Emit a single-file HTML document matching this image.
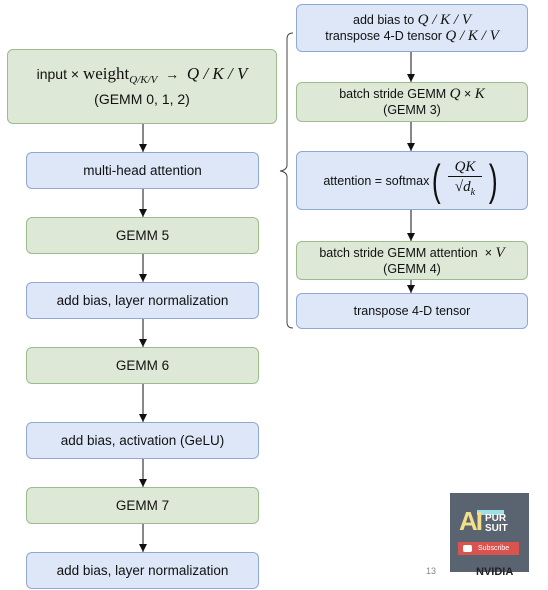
<!DOCTYPE html>
<html><head><meta charset="utf-8"><style>
body{margin:0;width:548px;height:590px;background:#fff;position:relative;overflow:hidden;font-family:"Liberation Sans",sans-serif;color:#111;}
.b{position:absolute;box-sizing:border-box;border-radius:6px;display:flex;flex-direction:column;align-items:center;justify-content:center;text-align:center;font-size:13.5px;line-height:17px;}
.g{background:#dde8d6;border:1px solid #9dbb8c;}
.u{background:#dde7f7;border:1px solid #8fa8d4;}
.m{font-family:"Liberation Serif",serif;font-style:italic;font-size:17px;}
.r{font-size:12.5px;line-height:16px;}
svg{z-index:5;}
</style></head><body>
<svg width="548" height="590" style="position:absolute;left:0;top:0">
<defs><marker id="a" markerWidth="8" markerHeight="8" refX="8" refY="4" orient="auto" markerUnits="userSpaceOnUse"><path d="M0,0 L8,4 L0,8z" fill="#111"/></marker></defs>
<g stroke="#111" stroke-width="1" fill="none">
<line x1="143" y1="124" x2="143" y2="152" marker-end="url(#a)"/>
<line x1="143" y1="189" x2="143" y2="217" marker-end="url(#a)"/>
<line x1="143" y1="254" x2="143" y2="282" marker-end="url(#a)"/>
<line x1="143" y1="319" x2="143" y2="347" marker-end="url(#a)"/>
<line x1="143" y1="384" x2="143" y2="422" marker-end="url(#a)"/>
<line x1="143" y1="459" x2="143" y2="487" marker-end="url(#a)"/>
<line x1="143" y1="524" x2="143" y2="552" marker-end="url(#a)"/>
<line x1="411" y1="52" x2="411" y2="82" marker-end="url(#a)"/>
<line x1="411" y1="122" x2="411" y2="151" marker-end="url(#a)"/>
<line x1="411" y1="210" x2="411" y2="241" marker-end="url(#a)"/>
<line x1="411" y1="280" x2="411" y2="293" marker-end="url(#a)"/>
<path d="M293,33 Q287,33 287,39 L287,165 Q287,170 280,171 Q287,172 287,177 L287,322 Q287,328 293,328" stroke="#444"/>
</g></svg>
<div class="b g" style="left:7px;top:49px;width:270px;height:75px;font-size:14px;line-height:20px"><div>input × <span style="font-family:'Liberation Serif',serif;font-size:17px">weight</span><sub class="m" style="font-size:11px">Q/K/V</sub> &nbsp;→ &nbsp;<span class="m">Q</span><span class="m"> / K / V</span></div><div>(GEMM 0, 1, 2)</div></div>
<div class="b u" style="left:26px;top:152px;width:233px;height:37px">multi-head attention</div>
<div class="b g" style="left:26px;top:217px;width:233px;height:37px">GEMM 5</div>
<div class="b u" style="left:26px;top:282px;width:233px;height:37px">add bias, layer normalization</div>
<div class="b g" style="left:26px;top:347px;width:233px;height:37px">GEMM 6</div>
<div class="b u" style="left:26px;top:422px;width:233px;height:37px">add bias, activation (GeLU)</div>
<div class="b g" style="left:26px;top:487px;width:233px;height:37px">GEMM 7</div>
<div class="b u" style="left:26px;top:552px;width:233px;height:37px">add bias, layer normalization</div>

<div class="b u r" style="left:296px;top:4px;width:232px;height:48px"><div>add bias to <span class="m" style="font-size:15px">Q / K / V</span></div><div>transpose 4-D tensor <span class="m" style="font-size:15px">Q / K / V</span></div></div>
<div class="b g r" style="left:296px;top:82px;width:232px;height:40px"><div>batch stride GEMM <span class="m" style="font-size:15px">Q</span> × <span class="m" style="font-size:15px">K</span></div><div>(GEMM 3)</div></div>
<div class="b u r" style="left:296px;top:151px;width:232px;height:59px;flex-direction:row"><span>attention = softmax</span><span style="font-size:44px;font-weight:100;line-height:50px;transform:scaleX(0.6)">(</span><span style="display:inline-flex;flex-direction:column;align-items:center;margin:0 4px"><span class="m" style="font-size:15px;line-height:18px">QK</span><span style="border-top:1px solid #111;width:34px;font-family:'Liberation Serif',serif;font-size:15px;line-height:20px">√<i>d<sub style="font-size:10px">k</sub></i></span></span><span style="font-size:44px;font-weight:100;line-height:50px;transform:scaleX(0.6)">)</span></div>
<div class="b g r" style="left:296px;top:241px;width:232px;height:39px"><div>batch stride GEMM attention &nbsp;× <span class="m" style="font-size:15px">V</span></div><div>(GEMM 4)</div></div>
<div class="b u r" style="left:296px;top:293px;width:232px;height:36px">transpose 4-D tensor</div>

<div style="position:absolute;left:426px;top:566px;font-size:9px;color:#888">13</div>
<div style="position:absolute;left:450px;top:493px;width:79px;height:79px;background:#5a6470">
<div style="position:absolute;left:27px;top:17px;width:27px;height:5px;background:#9fe0e6"></div>
<div style="position:absolute;left:9px;top:13px;font-weight:bold;font-size:26px;color:#f3df8a;letter-spacing:-2px">AI</div>
<div style="position:absolute;left:35px;top:21px;font-weight:bold;font-size:10px;line-height:10px;color:#fff">PUR<br>SUIT</div>
<div style="position:absolute;left:8px;top:49px;width:61px;height:13px;background:#d9534f;color:#fff;font-size:7px;line-height:13px;padding-left:20px;box-sizing:border-box">Subscribe</div>
<div style="position:absolute;left:13px;top:52px;width:9px;height:7px;background:#fff;border-radius:2px"></div>
</div>
<div style="position:absolute;left:476px;top:566px;font-weight:bold;font-size:11px;color:#222">NVIDIA</div>
</body></html>
